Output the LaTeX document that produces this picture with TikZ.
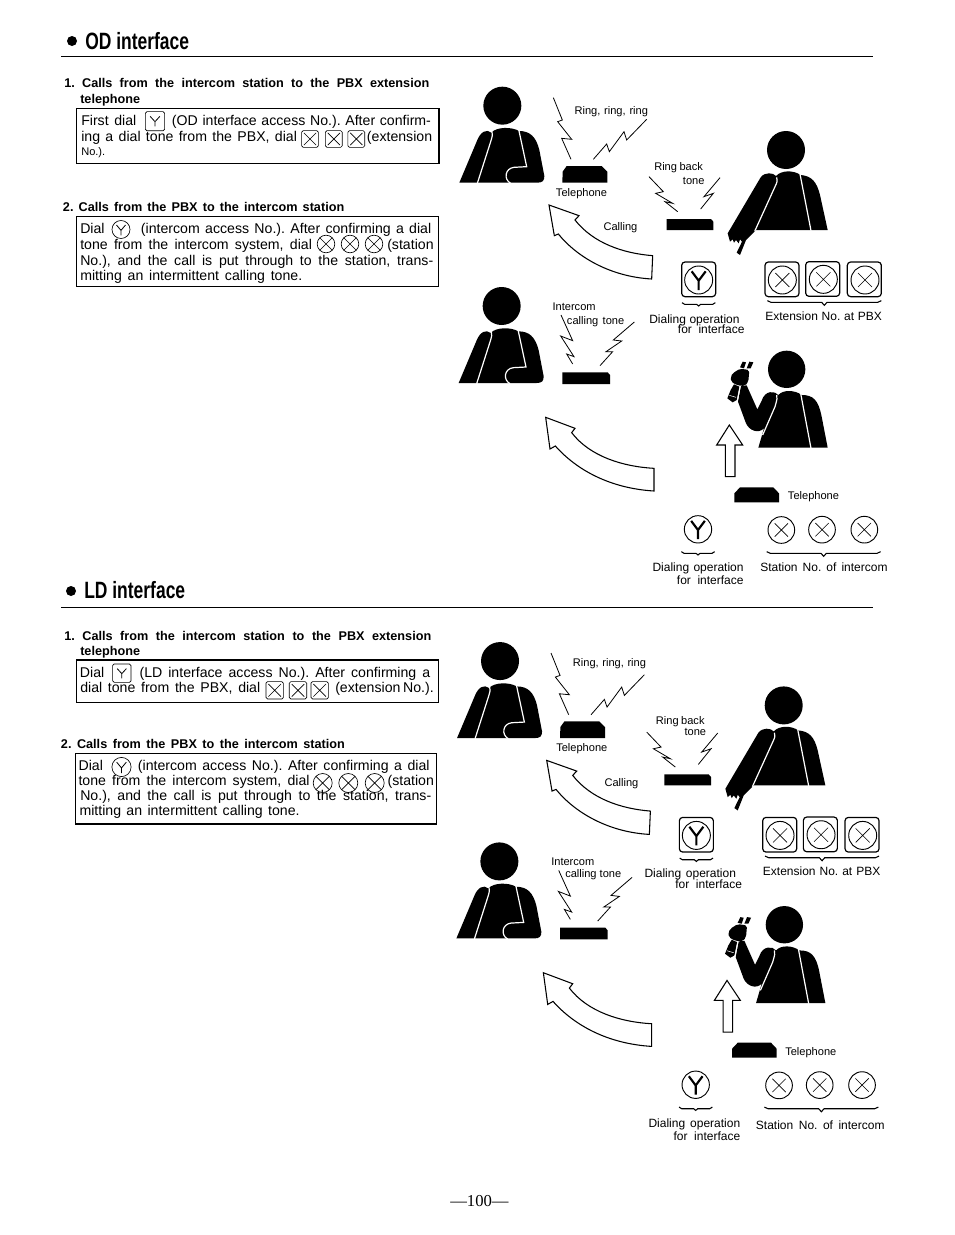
\documentclass[tikz,border=0pt]{standalone}
\usepackage{fontspec}
\setmainfont{Liberation Sans}
\newfontfamily\pagefont{Liberation Serif}

\tikzset{
    bodytext/.style={inner sep=0pt, font=\fontsize{10.6}{13}\selectfont},
    smalltext/.style={inner sep=0pt, font=\fontsize{8.3}{10}\selectfont},
    notetext/.style={inner sep=0pt, font=\fontsize{9}{11}\selectfont},
    steptext/.style={inner sep=0pt, font=\fontsize{9.5}{11}\selectfont\bfseries},
    titletext/.style={inner sep=0pt, font=\fontsize{17.7}{20}\selectfont\bfseries},
    boxpen/.style={line width=.8pt},
    zigzag/.style={line width=.6pt},
    bigarrow/.style={line width=.8pt, line join=miter},
    gappen/.style={white, line width=.9pt},
    pics/xinline/.style={code={
        \draw[line width=.5pt, rounded corners=1.2pt] (-1,-1) rectangle (1,1);
        \draw[line width=.5pt] (-.72,-.72) -- (.72,.72) (-.72,.72) -- (.72,-.72);
    }},
    pics/yinline/.style={code={
        \draw[line width=.5pt, rounded corners=1.2pt] (-1,-1) rectangle (1,1);
        \draw[line width=.6pt] (-.5,-.5) -- (0,.05) -- (.5,-.5) (0,.05) -- (0,.55);
    }},
    pics/xround/.style={code={
        \draw[line width=.5pt] (0,0) circle (1);
        \draw[line width=.5pt] (-.7,-.7) -- (.7,.7) (-.7,.7) -- (.7,-.7);
    }},
    pics/yround/.style={code={
        \draw[line width=.5pt] (0,0) circle (1);
        \draw[line width=.6pt] (-.5,-.5) -- (0,.1) -- (.5,-.5) (0,.1) -- (0,.65);
    }},
    pics/xdial/.style={code={
        \draw[line width=.7pt] (0,0) circle (1);
        \draw[line width=.45pt] (-.5,-.5) -- (.5,.5) (-.5,.5) -- (.5,-.5);
    }},
    pics/ydial/.style={code={
        \draw[line width=.7pt] (0,0) circle (1);
        \draw[line width=1.6pt] (-.5,-.62) -- (0,.05) -- (.5,-.62) (0,.05) -- (0,.72);
    }},
    pics/keyframe/.style={code={
        \draw[line width=.9pt, rounded corners=2.5pt] (-51,-52) rectangle (51,52);
    }},
    pics/smallbrace/.style={code={
        \draw[line width=.8pt] (-50,-5) .. controls (-48,-1) .. (-42,0) -- (-6,0) -- (0,5) -- (6,0) -- (42,0) .. controls (48,-1) .. (50,-5);
    }},
    pics/widebrace/.style={code={
        \draw[line width=.8pt] (-171,-5) .. controls (-168,-1) .. (-160,0) -- (-8,0) -- (0,9) -- (8,0) -- (160,0) .. controls (168,-1) .. (171,-5);
    }},
    pics/sitperson/.style={code={
        \fill (157,107) circle (57);
        \fill (28,338) -- (82,210) .. controls (92,185) and (110,176) .. (124,188) .. controls (140,170) and (185,170) .. (207,183) .. controls (240,183) and (258,200) .. (268,240) -- (283,318) .. controls (283,332) and (278,338) .. (262,338) -- cycle;
        \draw[gappen] (126,185) .. controls (128,195) .. (122,215) -- (82,340);
        \draw[gappen] (206,178) -- (230,290) -- (192,292) .. controls (165,295) and (160,328) .. (182,340);
    }},
    pics/pointperson/.style={code={
        \fill (1008,240) circle (57);
        \fill (1133,480) -- (1110,375) .. controls (1100,335) and (1085,318) .. (1052,315) .. controls (1030,300) and (995,300) .. (978,318) .. controls (970,308) and (945,305) .. (932,322) -- (833,490) -- (840,515) -- (848,508) -- (852,518) -- (858,510) -- (866,520) -- (870,508) -- (876,515) -- (860,548) -- (870,555) -- (888,510) -- (918,480) -- cycle;
        \draw[gappen] (980,322) .. controls (982,335) .. (975,350) -- (914,484);
        \draw[gappen] (1050,312) -- (1083,482);
    }},
    pics/holdperson/.style={code={
        \fill (1010,268) circle (56);
        \fill (1133,503) -- (1115,410) .. controls (1105,360) and (1090,345) .. (1055,345) .. controls (1035,330) and (1000,328) .. (985,345) .. controls (975,332) and (945,330) .. (935,362) -- (922,388) -- (890,316) -- (873,318) -- (864,365) -- (888,430) .. controls (898,452) and (925,462) .. (942,445) -- (925,503) -- cycle;
        \draw[gappen] (980,345) .. controls (982,355) .. (975,380) -- (938,465);
        \draw[gappen] (1052,340) -- (1083,505);
        % the receiver in the raised hand
        \fill[rounded corners=1.5pt] (848,280) -- (870,266) -- (898,270) -- (895,305) -- (885,318) -- (862,316) -- (843,305) -- (842,290) -- cycle;
        \fill (870,262) -- (878,245) -- (888,247) -- (882,265) -- cycle;
        \fill (890,265) -- (898,245) -- (910,247) -- (902,265) -- cycle;
        \fill (832,355) -- (842,330) -- (852,313) -- (868,320) -- (860,360) -- (848,367) -- cycle;
        \draw[white, line width=.4pt] (838,346) -- (858,352);
        \draw[white, line width=.4pt] (871,318) -- (862,364);
    }}
}

% one panel of figures, in units of a third of a pixel
\newcommand{\drawpanel}{
    \pic at (0,0) {sitperson};
    \pic at (0,0) {pointperson};
    \fill (337,338) -- (338,305) -- (350,288) -- (455,288) -- (472,305) -- (472,338) -- cycle;
    \fill (650,447) -- (650,480) -- (790,480) -- (790,455) -- (783,447) -- cycle;
    \draw[zigzag] (310,83) -- (337,150) -- (323,155) -- (365,208) -- (335,205) -- (363,268);
    \draw[zigzag] (590,148) -- (530,210) -- (522,185) -- (478,245) -- (470,222) -- (430,268);
    \draw[zigzag] (597,320) -- (640,365) -- (617,370) -- (668,400) -- (645,395) -- (683,425);
    \draw[zigzag] (810,323) -- (762,380) -- (790,370) -- (752,417);
    \draw[bigarrow] (297,405) -- (387,437) -- (375,450) .. controls (430,520) and (520,550) .. (608,557) -- (605,627) .. controls (480,620) and (380,560) .. (325,492) -- (313,497) -- cycle;
    \pic at (746,628) {keyframe};
    \pic[scale=42] at (746,630) {ydial};
    \pic at (996,628) {keyframe};
    \pic at (1118,627) {keyframe};
    \pic at (1243,628) {keyframe};
    \pic[scale=42] at (997,630) {xdial};
    \pic[scale=42] at (1120,628) {xdial};
    \pic[scale=42] at (1245,630) {xdial};
    \pic at (746,703) {smallbrace};
    \pic at (1123,697) {widebrace};
    \begin{scope}[shift={(0,630)}]
        \pic at (-2,-29) {sitperson};
        \pic at (0,0) {holdperson};
        \fill (337,277) -- (337,312) -- (480,312) -- (480,285) -- (473,277) -- cycle;
        \fill (853,667) -- (853,640) -- (870,622) -- (970,622) -- (987,640) -- (987,667) -- cycle;
        \draw[zigzag] (333,105) -- (368,182) -- (332,168) -- (372,230) -- (350,222) -- (368,252);
        \draw[zigzag] (553,126) -- (490,180) -- (515,183) -- (468,215) -- (488,215) -- (450,257);
        \draw[bigarrow] (287,412) -- (375,445) -- (365,458) .. controls (420,530) and (520,560) .. (612,565) -- (612,633) .. controls (480,625) and (380,570) .. (316,498) -- (300,507) -- cycle;
        \draw[bigarrow] (838,435) -- (878,495) -- (855,495) -- (855,590) -- (826,590) -- (826,495) -- (800,495) -- cycle;
        \pic[scale=41] at (744,748) {ydial};
        \pic[scale=40] at (994,750) {xdial};
        \pic[scale=40] at (1116,749) {xdial};
        \pic[scale=40] at (1243,749) {xdial};
        \pic at (744,820) {smallbrace};
        \pic at (1121,820) {widebrace};
    \end{scope}
}

% one line of text, stretched from x0 to x1
\newcommand{\fitline}[6][bodytext]{
    \pgfmathsetmacro{\fitw}{(#4-#3)*0.75}
    \node[#1, anchor=base west] (#2) at (#3,#5) {\frenchspacing\makebox[\fitw pt][s]{#6}};
}

\begin{document}
\begin{tikzpicture}[x=.75pt, y=-.75pt]
    \useasboundingbox (0,0) rectangle (954,1235);

    % OD interface
    \fill (72,41) circle (5);
    \node[titletext, anchor=base west] (odtitle) at (85,49) {\scalebox{.74}[1]{OD interface}};
    \draw[line width=.8pt] (61,56.5) -- (873,56.5);
    \fitline[steptext]{odstepa}{64}{429}{87.7}{1. Calls from the intercom station to the PBX extension}
    \fitline[steptext]{odstepb}{80}{141}{103.3}{telephone}
    \draw[boxpen] (76.7,108.3) rectangle (439,163.3);
    \fitline{odaa}{81}{136}{125}{First dial}
    \pic[scale=9.6] at (155,121.2) {yinline};
    \fitline{odab}{171.7}{430.7}{125}{(OD interface access No.). After confirm-}
    \fitline{odac}{81}{296.7}{141}{ing a dial tone from the PBX, dial}
    \pic[scale=8.4] at (310,139) {xinline};
    \pic[scale=8.4] at (333.8,139) {xinline};
    \pic[scale=8.4] at (356.3,139) {xinline};
    \fitline{odad}{366.7}{432.3}{141}{(extension}
    \fitline[smalltext]{odae}{81}{105}{155}{No.).}
    \fitline[steptext]{odstepc}{62.7}{344}{211}{2. Calls from the PBX to the intercom station}
    \draw[boxpen] (76.7,216.7) rectangle (438.7,286.7);
    \fitline{odba}{80}{102.3}{233.3}{Dial}
    \pic[scale=9] at (121,229.5) {yround};
    \fitline{odbb}{140.7}{431}{233.3}{(intercom access No.). After confirming a dial}
    \fitline{odbc}{80}{311.7}{249.3}{tone from the intercom system, dial}
    \pic[scale=8.8] at (326,244) {xround};
    \pic[scale=8.8] at (350,244) {xround};
    \pic[scale=8.8] at (374,244) {xround};
    \fitline{odbd}{387}{431}{249.3}{(station}
    \fitline{odbe}{80}{433}{265}{No.), and the call is put through to the station, trans-}
    \fitline{odbf}{80}{302}{280.7}{mitting an intermittent calling tone.}

    \begin{scope}[shift={(450,70)}, x=.25pt, y=-.25pt]
        \drawpanel
    \end{scope}
    \fitline[smalltext]{odring}{574.3}{647.7}{114}{Ring, ring, ring}
    \fitline[smalltext]{odphonea}{555.7}{608.3}{196}{Telephone}
    \fitline[smalltext]{odbacka}{654}{702.7}{170}{Ring back}
    \fitline[smalltext]{odbackb}{682.7}{704.3}{184}{tone}
    \fitline[smalltext]{odcall}{603.3}{636}{230}{Calling}
    \fitline[notetext]{odext}{765}{881.7}{320.7}{Extension No. at PBX}
    \fitline[smalltext]{odtonea}{552.3}{596.7}{310}{Intercom}
    \fitline[smalltext]{odtoneb}{566.7}{624}{324}{calling tone}
    \fitline[notetext]{oddiala}{649}{739.3}{323.3}{Dialing operation}
    \fitline[notetext]{oddialb}{677.7}{744.3}{333.3}{for interface}
    \fitline[smalltext]{odphoneb}{787.7}{840}{499}{Telephone}
    \fitline[notetext]{oddialc}{652.3}{743.3}{571}{Dialing operation}
    \fitline[notetext]{oddiald}{676.7}{743.3}{584}{for interface}
    \fitline[notetext]{odstat}{760}{887.3}{571.7}{Station No. of intercom}

    % LD interface
    \fill (71,591) circle (5);
    \node[titletext, anchor=base west] (ldtitle) at (84,598.5) {\scalebox{.74}[1]{LD interface}};
    \draw[line width=.8pt] (61,607.5) -- (873,607.5);
    \fitline[steptext]{ldstepa}{64}{431}{640}{1. Calls from the intercom station to the PBX extension}
    \fitline[steptext]{ldstepb}{80}{141}{655}{telephone}
    \draw[boxpen] (76.5,660) rectangle (438.3,702.3);
    \fitline{ldaa}{79.7}{102}{677.3}{Dial}
    \pic[scale=9.2] at (121.8,673.2) {yinline};
    \fitline{ldab}{139.3}{430}{677.3}{(LD interface access No.). After confirming a}
    \fitline{ldac}{80}{260}{692.3}{dial tone from the PBX, dial}
    \pic[scale=8.7] at (274.7,690.3) {xinline};
    \pic[scale=8.7] at (298,690.3) {xinline};
    \pic[scale=8.7] at (319.7,690.3) {xinline};
    \fitline{ldad}{335}{432.3}{692.3}{(extension No.).}
    \fitline[steptext]{ldstepc}{60.7}{344.7}{748.3}{2. Calls from the PBX to the intercom station}
    \draw[boxpen] (75.3,753.3) rectangle (436.7,824);
    \fitline{ldba}{78.3}{100}{770}{Dial}
    \pic[scale=9.6] at (121.5,767) {yround};
    \fitline{ldbb}{137.7}{429.3}{770}{(intercom access No.). After confirming a dial}
    \fitline{ldbc}{78.3}{309.3}{785}{tone from the intercom system, dial}
    \pic[scale=9.5] at (322.7,783) {xround};
    \pic[scale=9.5] at (348.3,783) {xround};
    \pic[scale=9.5] at (374.7,783) {xround};
    \fitline{ldbd}{387.3}{431}{785}{(station}
    \fitline{ldbe}{80}{431}{800.7}{No.), and the call is put through to the station, trans-}
    \fitline{ldbf}{79.3}{299.3}{815.7}{mitting an intermittent calling tone.}

    \begin{scope}[shift={(447.7,625.4)}, x=.25pt, y=-.25pt]
        \drawpanel
    \end{scope}
    \fitline[smalltext]{ldring}{572.7}{645.7}{666}{Ring, ring, ring}
    \fitline[smalltext]{ldphonea}{556}{608.3}{751}{Telephone}
    \fitline[smalltext]{ldbacka}{655.7}{704.3}{724}{Ring back}
    \fitline[smalltext]{ldbackb}{684.3}{706.7}{735.3}{tone}
    \fitline[smalltext]{ldcall}{604.3}{637.3}{786}{Calling}
    \fitline[notetext]{ldext}{762.7}{880}{875.7}{Extension No. at PBX}
    \fitline[smalltext]{ldtonea}{551}{595.7}{865}{Intercom}
    \fitline[smalltext]{ldtoneb}{565}{621}{877.3}{calling tone}
    \fitline[notetext]{lddiala}{644.3}{735.7}{877.3}{Dialing operation}
    \fitline[notetext]{lddialb}{675}{741.7}{888.3}{for interface}
    \fitline[smalltext]{ldphoneb}{785}{837.3}{1055}{Telephone}
    \fitline[notetext]{lddialc}{648.3}{740}{1127.3}{Dialing operation}
    \fitline[notetext]{lddiald}{673.3}{740}{1140}{for interface}
    \fitline[notetext]{ldstat}{755.7}{884.3}{1129}{Station No. of intercom}

    \node[inner sep=0pt, anchor=base west, font=\pagefont\fontsize{12.5}{14}\selectfont] (pageno) at (450,1206) {—100—};
\end{tikzpicture}
\end{document}
